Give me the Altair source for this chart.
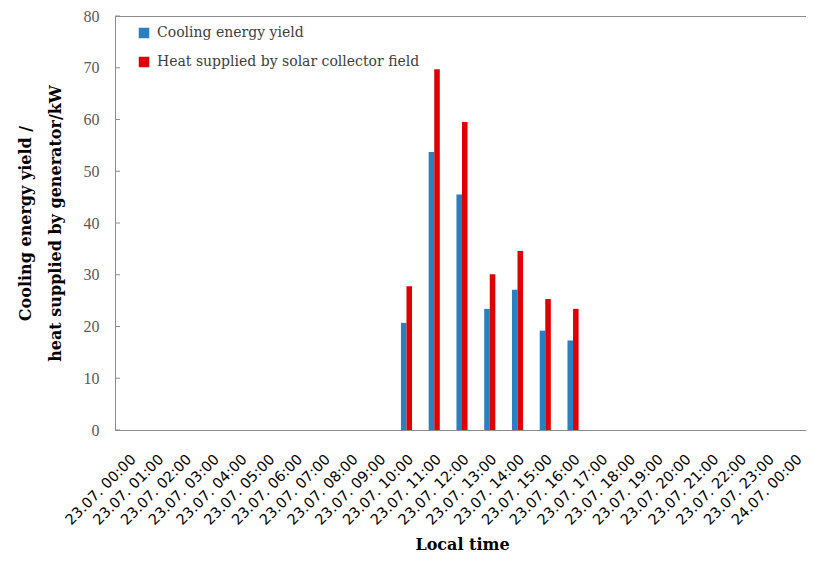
import altair as alt
import pandas as pd

hours = ["23.07. %02d:00" % h for h in range(24)] + ["24.07. 00:00"]
bar_hours = ["23.07. 10:00", "23.07. 11:00", "23.07. 12:00", "23.07. 13:00",
             "23.07. 14:00", "23.07. 15:00", "23.07. 16:00"]
cooling = [20.7, 53.7, 45.5, 23.4, 27.1, 19.2, 17.3]
heat = [27.8, 69.7, 59.5, 30.1, 34.6, 25.3, 23.4]
series = ["Cooling energy yield", "Heat supplied by solar collector field"]
y_ticks = [0, 10, 20, 30, 40, 50, 60, 70, 80]

rows = []
for h, c, q in zip(bar_hours, cooling, heat):
    rows.append({"time": h, "series": series[0], "value": c})
    rows.append({"time": h, "series": series[1], "value": q})
df = pd.DataFrame(rows)
ticks_df = pd.DataFrame({"v": y_ticks})

serif = "DejaVu Serif"

bars = alt.Chart(df).mark_bar().encode(
    x=alt.X("time:N",
            scale=alt.Scale(domain=hours, paddingInner=0.6, paddingOuter=0.3, range=[0, 694]),
            axis=alt.Axis(title="Local time", labelAngle=-45, labelFont="DejaVu Sans",
                          labelFontSize=14.5, labelColor="#000000", labelPadding=22,
                          ticks=False, domainColor="#8c8c8c", titleFont=serif,
                          titleFontSize=16, titleFontWeight="bold", titleColor="#000000",
                          titlePadding=10, labelOverlap=False)),
    xOffset=alt.XOffset("series:N", sort=series),
    y=alt.Y("value:Q", scale=alt.Scale(domain=[0, 80]),
            axis=alt.Axis(title=["Cooling energy yield /", "heat supplied by generator/kW"],
                          values=y_ticks, grid=False, ticks=False, labelFont="Liberation Serif",
                          labelFontSize=16, labelColor="#595959", labelPadding=16,
                          domainColor="#8c8c8c", titleFont=serif, titleFontSize=16,
                          titleFontWeight="bold", titleColor="#000000", titleLineHeight=30,
                          titlePadding=20)),
    color=alt.Color("series:N", sort=series,
                    scale=alt.Scale(domain=series, range=["#2A7FC1", "#E00000"]),
                    legend=alt.Legend(title=None, orient="none", legendX=22, legendY=10,
                                      symbolType="square", symbolSize=110,
                                      symbolStrokeWidth=0, labelFont=serif,
                                      labelFontSize=14, labelColor="#404040",
                                      rowPadding=15, labelOffset=6, labelLimit=0)),
)

tick_marks = alt.Chart(ticks_df).mark_rule(color="#8c8c8c").encode(
    y=alt.Y("v:Q"),
    x=alt.value(0),
    x2=alt.value(5),
)

chart = alt.layer(bars, tick_marks).properties(
    width=691, height=414,
    autosize=alt.AutoSizeParams(type="none"),
    padding={"left": 107, "top": 8, "right": 0, "bottom": 124},
).configure_view(stroke="#8c8c8c")

chart.save("out.html", embed_options={"renderer": "svg", "actions": False})
